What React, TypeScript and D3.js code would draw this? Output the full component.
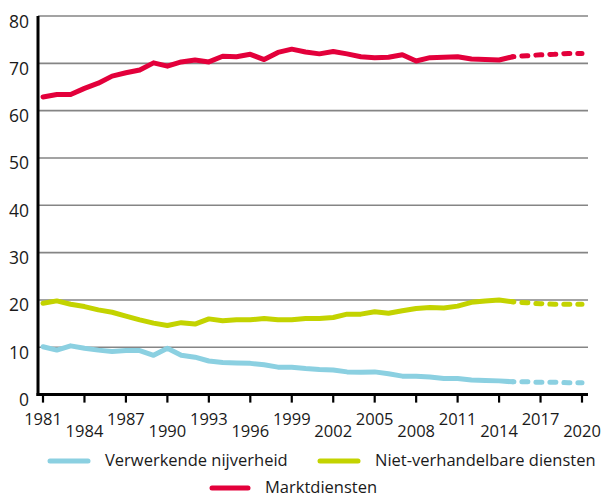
import React, { useEffect, useRef } from "react";
import * as d3 from "d3";

const years = d3.range(1981, 2021);
const lastActual = 2015;

// Marktdiensten
const marktdiensten = [
  62.9, 63.4, 63.4, 64.7, 65.8, 67.3, 68.0, 68.6, 70.1, 69.4,
  70.3, 70.7, 70.3, 71.5, 71.4, 71.9, 70.8, 72.3, 73.0, 72.4,
  72.0, 72.5, 72.0, 71.4, 71.2, 71.3, 71.8, 70.5, 71.2, 71.3,
  71.4, 70.9, 70.8, 70.7, 71.4, 71.6, 71.8, 71.9, 72.1, 72.1,
];
// Niet-verhandelbare diensten
const nietVerhandelbaar = [
  19.3, 19.8, 19.1, 18.6, 17.9, 17.4, 16.6, 15.8, 15.1, 14.6,
  15.2, 14.9, 16.0, 15.6, 15.8, 15.8, 16.1, 15.8, 15.8, 16.1,
  16.1, 16.3, 17.0, 17.0, 17.5, 17.2, 17.7, 18.2, 18.4, 18.3,
  18.7, 19.5, 19.8, 20.0, 19.6, 19.4, 19.2, 19.1, 19.1, 19.1,
];
// Verwerkende nijverheid
const verwerkend = [
  10.1, 9.4, 10.3, 9.8, 9.4, 9.1, 9.3, 9.3, 8.3, 9.8,
  8.3, 7.9, 7.1, 6.8, 6.7, 6.6, 6.3, 5.8, 5.8, 5.5,
  5.3, 5.2, 4.8, 4.7, 4.8, 4.4, 3.9, 3.9, 3.7, 3.4,
  3.4, 3.1, 3.0, 2.9, 2.7, 2.7, 2.6, 2.6, 2.5, 2.5,
];

const xTicks = d3.range(1981, 2021, 3);
const yTicks = [0, 10, 20, 30, 40, 50, 60, 70, 80];

const series = [
  { name: "Verwerkende nijverheid", values: verwerkend, color: "#8bd0e1" },
  { name: "Niet-verhandelbare diensten", values: nietVerhandelbaar, color: "#c3d300" },
  { name: "Marktdiensten", values: marktdiensten, color: "#e3003b" },
];

const W = 601;
const H = 497;
const FONT = "'Open Sans', sans-serif";

export default function App() {
  const ref = useRef<SVGSVGElement>(null);

  useEffect(() => {
    const svg = d3.select(ref.current);
    svg.selectAll("*").remove();

    const x = d3.scaleLinear().domain([1981, 2020]).range([43, 582]);
    const y = d3.scaleLinear().domain([0, 80]).range([394.6, 16]);
    const left = 38, right = 588;

    // gridlines
    svg.append("g")
      .selectAll("line")
      .data(yTicks.filter((d) => d > 0))
      .join("line")
      .attr("x1", left)
      .attr("x2", right)
      .attr("y1", (d) => y(d))
      .attr("y2", (d) => y(d))
      .attr("stroke", "#858585")
      .attr("stroke-width", 1.6);

    // y labels
    svg.append("g")
      .selectAll("text")
      .data(yTicks)
      .join("text")
      .attr("x", 29)
      .attr("y", (d) => y(d) + 11.5)
      .attr("text-anchor", "end")
      .attr("font-family", FONT)
      .attr("font-size", 17.5)
      .attr("fill", "#1a1a1a")
      .text((d) => d);

    // lines
    const line = d3
      .line<[number, number]>()
      .x((d) => x(d[0]))
      .y((d) => y(d[1]));

    series.forEach((s) => {
      const pts: [number, number][] = years.map((yr, i) => [yr, s.values[i]]);
      const solid = pts.filter((p) => p[0] <= lastActual);
      const dashed = pts.filter((p) => p[0] >= lastActual);
      svg.append("path")
        .attr("d", line(solid))
        .attr("fill", "none")
        .attr("stroke", s.color)
        .attr("stroke-width", 5)
        .attr("stroke-linejoin", "round")
        .attr("stroke-linecap", "round");
      svg.append("path")
        .attr("d", line(dashed))
        .attr("fill", "none")
        .attr("stroke", s.color)
        .attr("stroke-width", 5)
        .attr("stroke-linecap", "round")
        .attr("stroke-dasharray", "6 8")
        .attr("stroke-dashoffset", -9);
    });

    // axes
    svg.append("line")
      .attr("x1", left).attr("x2", left)
      .attr("y1", y(80)).attr("y2", y(0) + 1.5)
      .attr("stroke", "#000").attr("stroke-width", 3);
    svg.append("line")
      .attr("x1", left - 1.5).attr("x2", right)
      .attr("y1", y(0)).attr("y2", y(0))
      .attr("stroke", "#000").attr("stroke-width", 3);

    const xt = svg.append("g");
    xt.selectAll("line")
      .data(xTicks)
      .join("line")
      .attr("x1", (d) => x(d))
      .attr("x2", (d) => x(d))
      .attr("y1", y(0))
      .attr("y2", y(0) + 8)
      .attr("stroke", "#000")
      .attr("stroke-width", 2.2);
    xt.selectAll("text")
      .data(xTicks)
      .join("text")
      .attr("x", (d) => x(d))
      .attr("y", (d, i) => (i % 2 === 0 ? 424.5 : 436.5))
      .attr("text-anchor", "middle")
      .attr("font-family", FONT)
      .attr("font-size", 16.5)
      .attr("fill", "#1a1a1a")
      .text((d) => d);

    // legend
    const legend = [
      { s: series[0], x1: 50, x2: 88, tx: 105, y: 461 },
      { s: series[1], x1: 320, x2: 358, tx: 375, y: 461 },
      { s: series[2], x1: 212, x2: 248, tx: 265, y: 488 },
    ];
    const lg = svg.append("g");
    legend.forEach((l) => {
      lg.append("line")
        .attr("x1", l.x1).attr("x2", l.x2)
        .attr("y1", l.y).attr("y2", l.y)
        .attr("stroke", l.s.color)
        .attr("stroke-width", 5)
        .attr("stroke-linecap", "round");
      lg.append("text")
        .attr("x", l.tx)
        .attr("y", l.y + 4.5)
        .attr("font-family", FONT)
        .attr("font-size", 16.5)
        .attr("fill", "#1a1a1a")
        .text(l.s.name);
    });
  }, []);

  return (
    <svg
      ref={ref}
      width={W}
      height={H}
      style={{ position: "absolute", left: 0, top: 0, background: "#fff" }}
    />
  );
}
